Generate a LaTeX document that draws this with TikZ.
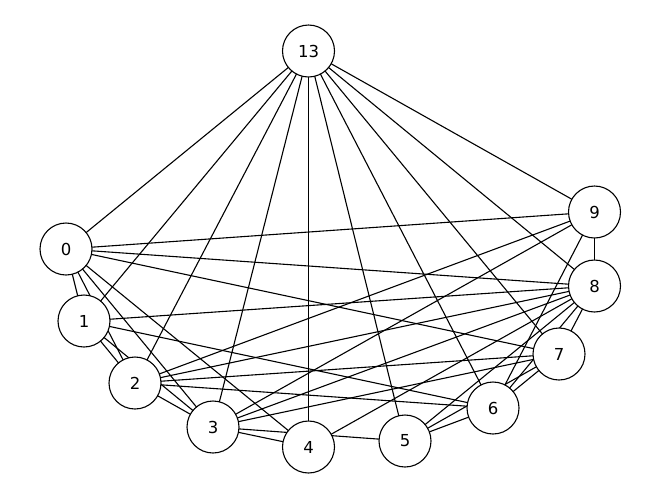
\documentclass[tikz,border=0pt]{standalone}
\usepackage{fontspec}
\setmainfont{DejaVu Sans}
\usetikzlibrary{backgrounds}
\begin{document}
\begin{tikzpicture}[x=1pt,y=-1pt,
  vertex/.style={circle,draw,fill=white,line width=1.1pt,minimum size=52pt,inner sep=0pt,font=\fontsize{16.5}{19}\selectfont},
  edge/.style={line width=1.1pt}]
\useasboundingbox (0,0) rectangle (660,499);
\node[vertex] (n13) at (308.5,51) {13};
\node[vertex] (n0) at (66,249) {0};
\node[vertex] (n9) at (594.5,212) {9};
\node[vertex] (n8) at (594.5,286) {8};
\node[vertex] (n1) at (84,321) {1};
\node[vertex] (n7) at (559,354) {7};
\node[vertex] (n2) at (135,383) {2};
\node[vertex] (n6) at (493,408) {6};
\node[vertex] (n3) at (213,427) {3};
\node[vertex] (n5) at (405,441) {5};
\node[vertex] (n4) at (308.5,447) {4};
\begin{scope}[on background layer]
\foreach \t in {0,1,2,3,4,5,6,7,8,9} \draw[edge] (n13.center) -- (n\t.center);
\foreach \a/\b in {0/1,0/2,0/3,0/4,0/7,0/8,0/9,
  1/2,1/3,1/6,1/8,
  2/3,2/6,2/7,2/8,2/9,
  3/4,3/5,3/7,3/8,3/9,
  4/8,
  5/6,5/7,5/8,
  6/7,6/8,6/9,
  7/8,8/9}
  \draw[edge] (n\a.center) -- (n\b.center);
\end{scope}
\end{tikzpicture}
\end{document}
